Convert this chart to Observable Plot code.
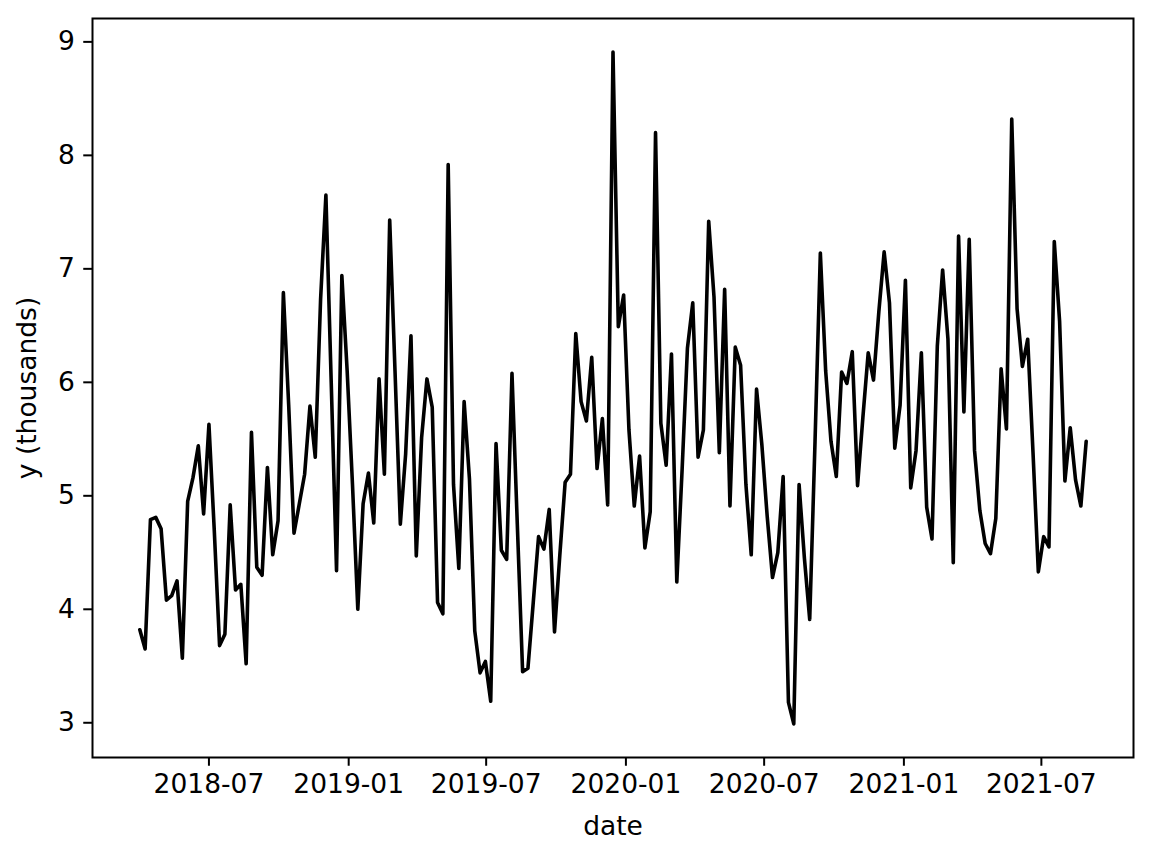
<!DOCTYPE html>
<html><head><meta charset="utf-8">
<script src="https://cdn.jsdelivr.net/npm/d3@7"></script>
<script src="https://cdn.jsdelivr.net/npm/@observablehq/plot@0.6"></script>
<style>html,body{margin:0;padding:0;background:#fff;}</style>
</head><body><div id="chart"></div>
<script>
// Weekly observations starting on this date
const startDate = "2018-04-01";
const values = [
  3.82, 3.65, 4.79, 4.81, 4.71, 4.08, 4.12, 4.25, 3.57, 4.95,
  5.16, 5.44, 4.84, 5.63, 4.70, 3.68, 3.78, 4.92, 4.17, 4.22,
  3.52, 5.56, 4.37, 4.30, 5.25, 4.48, 4.78, 6.79, 5.80, 4.67,
  4.93, 5.19, 5.79, 5.34, 6.73, 7.65, 6.00, 4.34, 6.94, 6.10,
  5.10, 4.00, 4.93, 5.20, 4.76, 6.03, 5.19, 7.43, 6.10, 4.75,
  5.37, 6.41, 4.47, 5.51, 6.03, 5.78, 4.06, 3.96, 7.92, 5.10,
  4.36, 5.83, 5.15, 3.81, 3.44, 3.54, 3.19, 5.46, 4.52, 4.44,
  6.08, 4.75, 3.45, 3.48, 4.06, 4.64, 4.53, 4.88, 3.80, 4.48,
  5.12, 5.19, 6.43, 5.83, 5.66, 6.22, 5.24, 5.68, 4.92, 8.91,
  6.49, 6.77, 5.58, 4.91, 5.35, 4.54, 4.86, 8.20, 5.64, 5.27,
  6.25, 4.24, 5.23, 6.30, 6.70, 5.34, 5.58, 7.42, 6.75, 5.38,
  6.82, 4.91, 6.31, 6.15, 5.10, 4.48, 5.94, 5.45, 4.82, 4.28,
  4.50, 5.17, 3.18, 2.99, 5.10, 4.45, 3.91, 5.48, 7.14, 6.10,
  5.48, 5.17, 6.09, 5.99, 6.27, 5.09, 5.69, 6.26, 6.02, 6.62,
  7.15, 6.70, 5.42, 5.80, 6.90, 5.07, 5.40, 6.26, 4.90, 4.62,
  6.32, 6.99, 6.38, 4.41, 7.29, 5.74, 7.26, 5.40, 4.87, 4.58,
  4.49, 4.80, 6.12, 5.59, 8.32, 6.65, 6.14, 6.38, 5.38, 4.33,
  4.64, 4.55, 7.24, 6.54, 5.13, 5.60, 5.14, 4.91, 5.48
];
const xTickLabels = ["2018-07", "2019-01", "2019-07", "2020-01", "2020-07", "2021-01", "2021-07"];
const yTicks = [3, 4, 5, 6, 7, 8, 9];
const xLabel = "date";
const yLabel = "y (thousands)";

const start = d3.utcParse("%Y-%m-%d")(startDate);
const parseMonth = d3.utcParse("%Y-%m");
const data = values.map((v, i) => ({date: d3.utcDay.offset(start, 7 * i), y: v}));
const xExt = d3.extent(data, d => d.date);
const xPad = (xExt[1] - xExt[0]) * 0.05;
const yExt = d3.extent(values);
const yPad = (yExt[1] - yExt[0]) * 0.05;

const chart = Plot.plot({
  width: 1152,
  height: 858,
  marginLeft: 92,
  marginRight: 19,
  marginTop: 18,
  marginBottom: 101,
  style: {fontFamily: "DejaVu Sans", fontSize: "26.5px", background: "white", color: "black"},
  x: {type: "utc", domain: [new Date(+xExt[0] - xPad), new Date(+xExt[1] + xPad)]},
  y: {domain: [yExt[0] - yPad, yExt[1] + yPad]},
  marks: [
    Plot.line(data, {x: "date", y: "y", stroke: "black", strokeWidth: 3.6}),
    Plot.frame({stroke: "black", strokeWidth: 2}),
    Plot.axisX(xTickLabels.map(parseMonth), {
      tickFormat: d3.utcFormat("%Y-%m"), tickSize: 8.75, tickPadding: 8, strokeWidth: 2,
      fontSize: 26.5, label: xLabel, labelAnchor: "center", labelOffset: 77, labelArrow: false
    }),
    Plot.axisY(yTicks, {
      tickFormat: d => String(d), tickSize: 8.75, tickPadding: 9, strokeWidth: 2,
      fontSize: 26.5, label: yLabel, labelAnchor: "center", labelOffset: 75, labelArrow: false
    })
  ]
});
document.getElementById("chart").appendChild(chart);
</script>
</body></html>
